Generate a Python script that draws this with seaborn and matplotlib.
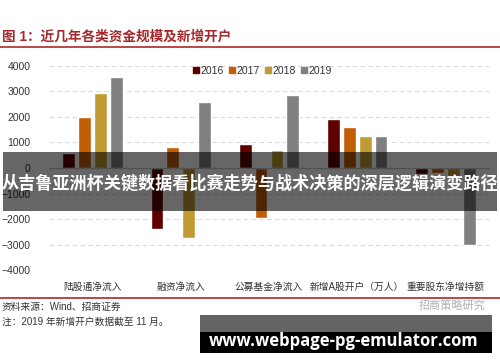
import pandas as pd
import matplotlib.pyplot as plt
import seaborn as sns
from matplotlib.patches import Rectangle
from matplotlib.lines import Line2D

# data
categories = ['陆股通净流入', '融资净流入', '公募基金净流入', '新增A股开户（万人）', '重要股东净增持额']
years = ['2016', '2017', '2018', '2019']
v2016 = [600, -2380, 940, 1920, -250]
v2017 = [2000, 840, -1960, 1590, -200]
v2018 = [2950, -2750, 710, 1260, -300]
v2019 = [3550, 2600, 2840, 1240, -3000]
colors = ['#5E0000', '#C25E05', '#C19A33', '#808080']

yticks = [-4000, -3000, -2000, -1000, 0, 1000, 2000, 3000, 4000]

rows = []
for y, vals in zip(years, [v2016, v2017, v2018, v2019]):
    for c, v in zip(categories, vals):
        rows.append({'cat': c, 'year': y, 'val': v})
df = pd.DataFrame(rows)

sns.set_style('white')
plt.rcParams['font.family'] = ['Liberation Sans', 'Noto Sans CJK SC', 'DejaVu Sans']

fig = plt.figure(figsize=(5, 3.62), dpi=100)
ax = fig.add_axes([0.097, 0.2528, 0.882, 0.5657])

sns.barplot(data=df, x='cat', y='val', hue='year', palette=colors,
            width=0.72, gap=0.19, ax=ax, legend=False, saturation=1)

ax.set_ylim(-4000, 4000)
ax.set_xlim(-0.5, 4.5)
ax.set_yticks(yticks)
ax.set_yticklabels([str(t).replace('-', '\u2212') for t in yticks], fontsize=7.5, color='#333333')
ax.set_xticks(range(len(categories)))
ax.set_xticklabels(categories, fontsize=7, color='#333333')
ax.tick_params(axis='x', length=0, pad=8)
ax.tick_params(axis='y', length=0, pad=13)
ax.set_xlabel('')
ax.set_ylabel('')
for s in ax.spines.values():
    s.set_visible(False)
ax.yaxis.grid(True, linestyle=(0, (4, 3)), color='#DADADA', linewidth=0.8)
ax.set_axisbelow(True)
ax.axhline(0, color='#C8C8C8', linewidth=0.9, zorder=1)

handles = [Line2D([], [], marker='s', linestyle='', color=c, markersize=4) for c in colors]
ax.legend(handles, years, loc='upper center', bbox_to_anchor=(0.485, 1.045), ncol=4,
          frameon=False, fontsize=7.5, handlelength=0.6, handletextpad=0.1,
          columnspacing=0.5, labelcolor='#333333')

# title and red rules
fig.text(0.004, 1 - 37 / 362, '图 1：近几年各类资金规模及新增开户', fontsize=9.8,
         color='#A6282A', fontweight='bold', va='center', ha='left')
fig.add_artist(Line2D([0, 1], [1 - 47 / 362] * 2, color='#B23A3A', linewidth=1.3))
fig.add_artist(Line2D([0, 1], [1 - 298 / 362] * 2, color='#B23A3A', linewidth=1.3))

fig.text(0.004, 1 - 307 / 362, '资料来源：Wind、招商证券', fontsize=7, color='#333333', va='center')
fig.text(0.004, 1 - 322 / 362, '注：2019 年新增开户数据截至 11 月。', fontsize=7, color='#333333', va='center')
fig.text(0.97, 1 - 305 / 362, '招商策略研究', fontsize=8, color='#B0B0B0', va='center', ha='right')

# overlay banner
fig.add_artist(Rectangle((3 / 500, 1 - 211 / 362), 494 / 500, 59 / 362,
                         transform=fig.transFigure, color='black', alpha=0.6, lw=0))
fig.text(0.5, 1 - 184 / 362, '从吉鲁亚洲杯关键数据看比赛走势与战术决策的深层逻辑演变路径',
         fontsize=12.3, color='white', fontweight='bold', ha='center', va='center',
         family=['Noto Sans CJK SC'])

# url box
fig.add_artist(Rectangle((200 / 500, 1 - 332 / 362), 292 / 500, 17 / 362,
                         transform=fig.transFigure, color='#646464', lw=0))
fig.add_artist(Rectangle((200 / 500, 1 - 353 / 362), 292 / 500, 21 / 362,
                         transform=fig.transFigure, color='black', lw=0))
fig.text(344 / 500, 1 - 341 / 362, 'www.webpage-pg-emulator.com', fontsize=12,
         color='white', fontweight='bold', ha='center', va='center', family=['Open Sans'])

fig.savefig('out.png', dpi=100)
